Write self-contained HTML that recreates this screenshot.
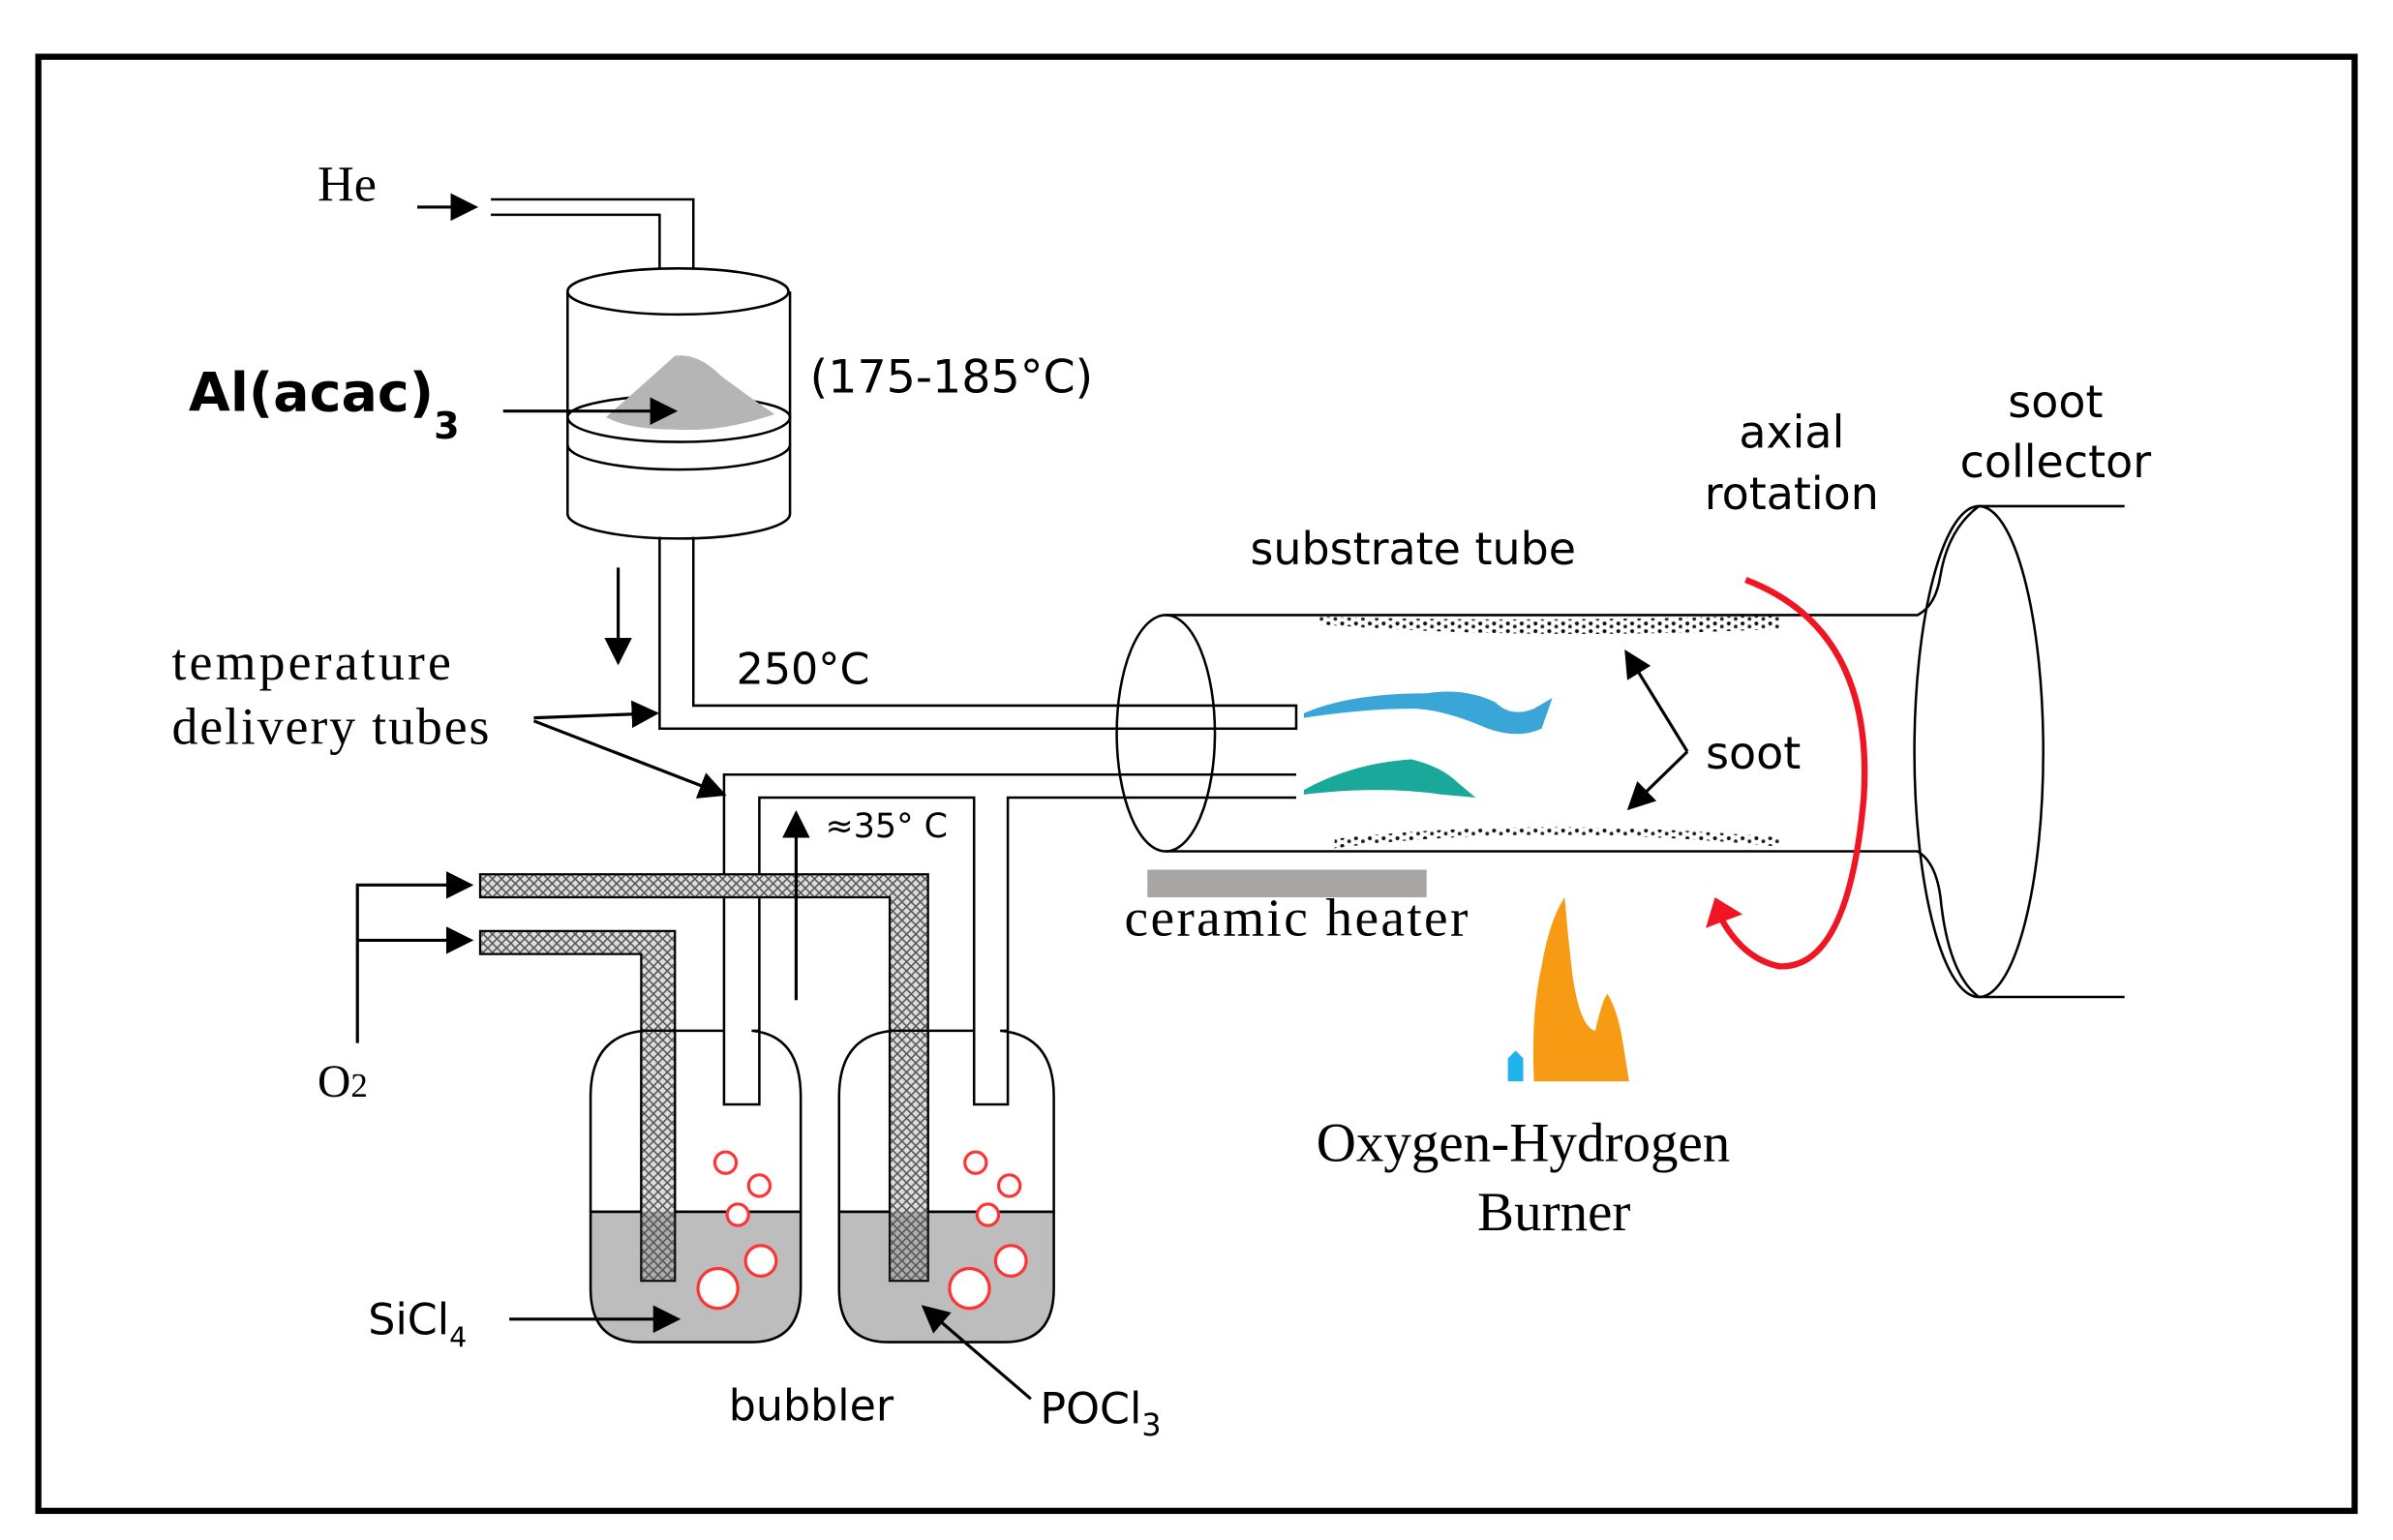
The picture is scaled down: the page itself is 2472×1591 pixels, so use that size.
<!DOCTYPE html>
<html><head><meta charset="utf-8"><style>
html,body{margin:0;padding:0;background:#fff;}
svg{display:block;}
.sans{font-family:"DejaVu Sans","Liberation Sans",sans-serif;}
.serif{font-family:"Liberation Serif",serif;}
</style></head><body>
<svg width="2472" height="1591" viewBox="0 0 1560 1004" preserveAspectRatio="none" xmlns="http://www.w3.org/2000/svg">
<defs>
<pattern id="hatch" width="6" height="6" patternUnits="userSpaceOnUse">
<rect width="6" height="6" fill="#ddd"/>
<path d="M0 0L6 6M6 0L0 6" stroke="#555" stroke-width="1"/>
</pattern>
<pattern id="dots" width="9" height="5" patternUnits="userSpaceOnUse">
<circle cx="2" cy="1.5" r="1.3" fill="#111"/><circle cx="6.5" cy="3.5" r="1.2" fill="#222"/>
</pattern>
<marker id="ahs" viewBox="0 0 10 10" markerWidth="18" markerHeight="18" refX="9" refY="5" orient="auto" markerUnits="userSpaceOnUse"><path d="M0 0L10 5L0 10Z" fill="#000"/></marker>
</defs>
<rect x="0" y="0" width="1560" height="1004" fill="#fff"/>
<rect x="25" y="37" width="1510" height="948" fill="none" stroke="#000" stroke-width="4"/>

<g fill="none" stroke="#000" stroke-width="1.6">
<path d="M320 130H452V192M320 140H430V192"/>
<path d="M370 190V335A72 16 0 0 0 515 335V190" fill="#fff"/>
<ellipse cx="442" cy="190" rx="72" ry="15" fill="#fff"/>
<path d="M370 272A72 16 0 0 0 515 272" />
<path d="M370 272A72 14 0 0 1 515 272"/>
<path d="M370 290A72 16 0 0 0 515 290"/>
</g>
<path d="M395 272Q420 250 440 232Q455 230 470 245Q490 260 505 270Q470 282 440 280Q410 280 395 272Z" fill="#b5b5b5"/>
<g fill="none" stroke="#000" stroke-width="1.6">
<path d="M430 350V475H845V460H452V350"/>
<path d="M845 505H472V720H495V520H635V720H657V520H845"/>
</g>
<path d="M313 570H605V835H580V585H313Z" fill="url(#hatch)" stroke="#000" stroke-width="1.4"/>
<path d="M313 607H440V835H418V622H313Z" fill="url(#hatch)" stroke="#000" stroke-width="1.4"/>
<g stroke="#000" stroke-width="1.6">
<path d="M385 790H522V840Q522 875 490 875H417Q385 875 385 840Z" fill="#bdbdbd"/>
<path d="M547 790H687V840Q687 875 655 875H579Q547 875 547 840Z" fill="#bdbdbd"/>
<path d="M385 790V715Q385 675 420 672H472M495 672H490Q522 675 522 715V790H385" fill="none"/>
<path d="M547 790V715Q547 675 582 672H635M657 672H652Q687 675 687 715V790H547" fill="none"/>
</g>
<rect x="418" y="672" width="22" height="163" fill="url(#hatch)" stroke="#000" stroke-width="1.4"/>
<rect x="580" y="672" width="25" height="163" fill="url(#hatch)" stroke="#000" stroke-width="1.4"/>
<rect x="418" y="790" width="22" height="45" fill="#555" opacity="0.35"/>
<rect x="580" y="790" width="25" height="45" fill="#555" opacity="0.35"/>
<g fill="#fff" stroke="#f33" stroke-width="2">
<circle cx="473" cy="758" r="7"/><circle cx="495" cy="773" r="7"/><circle cx="481" cy="792" r="7"/><circle cx="496" cy="822" r="10"/><circle cx="468" cy="840" r="13"/>
<circle cx="636" cy="758" r="7"/><circle cx="658" cy="773" r="7"/><circle cx="644" cy="792" r="7"/><circle cx="659" cy="822" r="10"/><circle cx="632" cy="840" r="13"/>
</g>
<g stroke="#000" stroke-width="2" fill="none">
<line x1="272" y1="135" x2="310" y2="135" marker-end="url(#ahs)"/>
<line x1="328" y1="268" x2="440" y2="268" marker-end="url(#ahs)"/>
<line x1="403" y1="370" x2="403" y2="432" marker-end="url(#ahs)"/>
<line x1="348" y1="468" x2="428" y2="465" marker-end="url(#ahs)"/>
<line x1="348" y1="470" x2="472" y2="518" marker-end="url(#ahs)"/>
<line x1="519" y1="652" x2="519" y2="530" marker-end="url(#ahs)"/>
<path d="M233 680V577H305M233 613H305"/>
<line x1="290" y1="577" x2="307" y2="577" marker-end="url(#ahs)"/>
<line x1="290" y1="613" x2="307" y2="613" marker-end="url(#ahs)"/>
<line x1="332" y1="860" x2="442" y2="860" marker-end="url(#ahs)"/>
<line x1="672" y1="912" x2="602" y2="852" marker-end="url(#ahs)"/>
<path d="M1100 490L1060 425" marker-end="url(#ahs)"/>
<path d="M1100 490L1062 527" marker-end="url(#ahs)"/>
</g>
<g fill="none" stroke="#000" stroke-width="1.6">
<ellipse cx="760" cy="478" rx="32" ry="77"/>
<path d="M760 401H1250Q1262 395 1265 375Q1270 345 1290 330H1385M760 555H1250Q1262 562 1265 585Q1270 635 1290 650H1385"/>
<ellipse cx="1290" cy="490" rx="42" ry="160"/>
</g>
<path d="M860 402Q1000 406 1160 401L1160 410Q1000 418 860 407Z" fill="url(#dots)"/>
<path d="M870 553Q1000 536 1160 552L1160 546Q1000 532 870 547Z" fill="url(#dots)"/>
<path d="M850 465Q880 452 930 452Q955 448 975 458Q985 468 1000 462L1012 455L1005 475Q990 482 970 475Q940 462 920 462Q890 462 850 468Z" fill="#3aa6d8"/>
<path d="M850 515Q880 498 920 495Q940 500 950 510L962 520L940 518Q900 512 850 518Z" fill="#1aa89a"/>
<path d="M1138 378Q1222 410 1215 520Q1205 632 1160 630Q1135 625 1120 595" fill="none" stroke="#f01522" stroke-width="4"/>
<path d="M1112 605L1118 585L1136 596Z" fill="#f01522"/>
<rect x="748" y="567" width="182" height="18" fill="#aaa5a5"/>
<path d="M1000 705Q998 660 1005 630Q1010 600 1020 585Q1022 610 1025 635Q1030 670 1040 672Q1045 650 1048 648Q1055 660 1058 680L1062 705Z" fill="#f79a14"/>
<path d="M983 705V690L988 685L993 690V705Z" fill="#1fb4ec"/>
<g class="serif" fill="#000">
<text x="207" y="131" font-size="33">He</text>
<text x="112" y="443" font-size="34" textLength="182">temperature</text>
<text x="112" y="485" font-size="34" textLength="207">delivery tubes</text>
<text x="207" y="715" font-size="30">O<tspan font-size="22">2</tspan></text>
<text x="733" y="610" font-size="35" textLength="224">ceramic heater</text>
<text x="993" y="757" font-size="36" text-anchor="middle">Oxygen-Hydrogen</text>
<text x="1013" y="802" font-size="36" text-anchor="middle">Burner</text>
</g>
<g class="sans" fill="#000">
<text x="123" y="268" font-size="35" font-weight="bold">Al(acac)<tspan font-size="24" dy="18">3</tspan></text>
<text x="528" y="256" font-size="30">(175-185°C)</text>
<text x="480" y="446" font-size="28">250°C</text>
<text x="538" y="546" font-size="22">≈35° C</text>
<text x="815" y="368" font-size="29">substrate tube</text>
<text x="1168" y="292" font-size="29" text-anchor="middle">axial</text>
<text x="1168" y="332" font-size="29" text-anchor="middle">rotation</text>
<text x="1340" y="272" font-size="29" text-anchor="middle">soot</text>
<text x="1340" y="311" font-size="29" text-anchor="middle">collector</text>
<text x="1112" y="501" font-size="29">soot</text>
<text x="240" y="870" font-size="28">SiCl<tspan font-size="18" dy="8">4</tspan></text>
<text x="475" y="926" font-size="28">bubbler</text>
<text x="678" y="928" font-size="28">POCl<tspan font-size="20" dy="8">3</tspan></text>
</g>
</svg>
</body></html>
